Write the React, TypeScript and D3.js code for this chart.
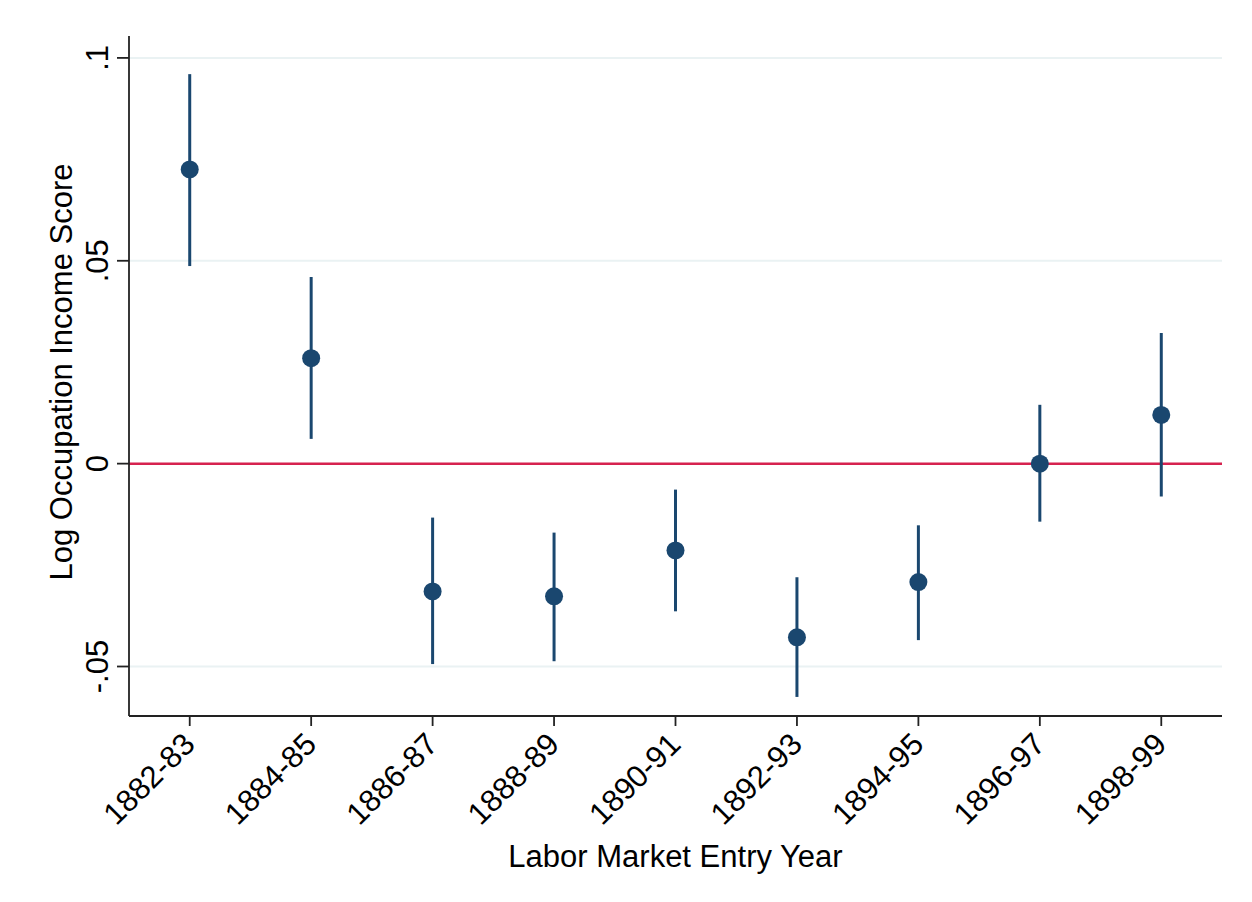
import * as d3 from "d3";

const periods = ["1882-83", "1884-85", "1886-87", "1888-89", "1890-91", "1892-93", "1894-95", "1896-97", "1898-99"];
const estimates = [0.0725, 0.026, -0.0315, -0.0327, -0.0214, -0.0428, -0.0292, 0.0, 0.012];
const ciLow = [0.0487, 0.0061, -0.0494, -0.0487, -0.0364, -0.0575, -0.0435, -0.0143, -0.0081];
const ciHigh = [0.096, 0.046, -0.0133, -0.017, -0.0064, -0.028, -0.0152, 0.0145, 0.0322];
const yTicks = [-0.05, 0, 0.05, 0.1];
const yTickLabels = ["-.05", "0", ".05", ".1"];

const width = 1252;
const height = 902;
const left = 129;
const right = 1222;
const top = 36;
const bottom = 716;

const navy = "#1a476f";
const font = "'Liberation Sans', Arial, sans-serif";

export default function App() {
  const x = d3.scalePoint<string>().domain(periods).range([left, right]).padding(0.5);
  const y = d3.scaleLinear().domain([-0.0622, 0.1054]).range([bottom, top]);

  return (
    <svg width={width} height={height} style={{ display: "block", margin: "-8px" }} fontFamily={font}>
      <rect x={0} y={0} width={width} height={height} fill="#fff" />
      <rect x={6} y={4} width={width - 6} height={height - 4} fill="none" stroke="#f0f0f0" strokeWidth={1} />
      {/* grid */}
      {yTicks.filter((t) => t !== 0).map((t) => (
        <line key={t} x1={left} x2={right} y1={y(t)} y2={y(t)} stroke="#eaf2f3" strokeWidth={2} />
      ))}
      {/* zero reference */}
      <line x1={left} x2={right} y1={y(0)} y2={y(0)} stroke="#d6224f" strokeWidth={2.5} />
      {/* axes */}
      <line x1={left} x2={left} y1={top} y2={bottom} stroke="#222" strokeWidth={1.8} />
      <line x1={left} x2={right} y1={bottom} y2={bottom} stroke="#222" strokeWidth={1.8} />
      {yTicks.map((t, i) => (
        <g key={t} transform={`translate(${left},${y(t)})`}>
          <line x1={-12} x2={0} stroke="#222" strokeWidth={1.8} />
          <text transform="translate(-21,0) rotate(-90)" textAnchor="middle" fontSize={31} fill="#000">
            {yTickLabels[i]}
          </text>
        </g>
      ))}
      {periods.map((p) => (
        <g key={p} transform={`translate(${x(p)},${bottom})`}>
          <line y1={0} y2={10} stroke="#222" strokeWidth={1.8} />
          <text transform="translate(7,30) rotate(-45)" textAnchor="end" fontSize={31} fill="#000">
            {p}
          </text>
        </g>
      ))}
      {/* estimates with CIs */}
      {periods.map((p, i) => (
        <g key={p}>
          <line x1={x(p)} x2={x(p)} y1={y(ciLow[i])} y2={y(ciHigh[i])} stroke={navy} strokeWidth={3} />
          <circle cx={x(p)} cy={y(estimates[i])} r={9} fill={navy} />
        </g>
      ))}
      <text x={(left + right) / 2} y={867} textAnchor="middle" fontSize={31} fill="#000">
        Labor Market Entry Year
      </text>
      <text transform="translate(72,372) rotate(-90)" textAnchor="middle" fontSize={31} fill="#000">
        Log Occupation Income Score
      </text>
    </svg>
  );
}
